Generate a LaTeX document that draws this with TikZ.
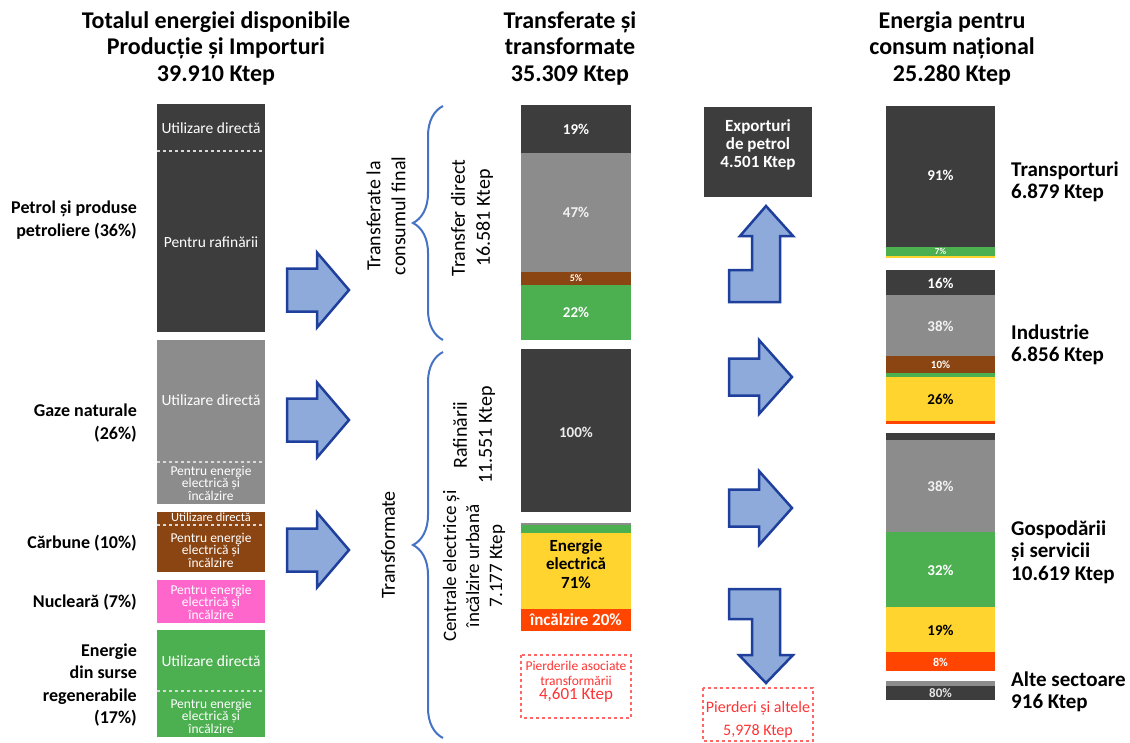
\documentclass[tikz,border=0pt]{standalone}
\usepackage{fontspec}
\setmainfont{Carlito}
\usetikzlibrary{decorations.pathreplacing}

\definecolor{oil}{HTML}{3D3D3D}
\definecolor{gas}{HTML}{8C8C8C}
\definecolor{coal}{HTML}{8B4513}
\definecolor{nuke}{HTML}{FF66CC}
\definecolor{renew}{HTML}{4CAF50}
\definecolor{elec}{HTML}{FFD42E}
\definecolor{heat}{HTML}{FF4500}
\definecolor{arrowfill}{HTML}{8EAADB}
\definecolor{arrowline}{HTML}{1F3F9C}
\definecolor{bracecol}{HTML}{4472C4}
\definecolor{loss}{HTML}{FF3333}

\newcommand{\fs}[2]{\fontsize{#1}{#2}\selectfont}

\tikzset{
  heading/.style={align=center, inner sep=0, font=\bfseries\fs{24}{26.5}},
  srclabel/.style={align=right, anchor=east, inner sep=0, font=\bfseries\fs{18}{22.5}},
  uselabel/.style={align=left, anchor=west, inner sep=0, font=\bfseries\fs{21}{22.5}},
  inbar/.style={text=white, align=center, inner sep=0, font=\fs{15.5}{16}},
  inbarsmall/.style={text=white, align=center, inner sep=0, font=\fs{13.5}{12.5}},
  pct/.style={text=white, inner sep=0, font=\bfseries\fs{15}{16}},
  sideways/.style={rotate=90, align=center, inner sep=0, font=\fs{20}{25}},
  split/.style={white!85!black, dash pattern=on 3pt off 3pt, line width=1.5pt},
  blockarrow/.style={fill=arrowfill, draw=arrowline, line width=2.5pt, line join=miter},
  curly/.style={draw=bracecol, line width=2pt, decorate, decoration={brace, amplitude=30pt}},
  lossbox/.style={draw=loss!75, dashed, line width=1.2pt},
  losstext/.style={text=loss, align=center, inner sep=0},
}

\begin{document}
\begin{tikzpicture}[x=1pt, y=-1pt]
  \useasboundingbox (0,0) rectangle (1130,742);

  % column headings
  \node[heading] (h1) at (216,48) {Totalul energiei disponibile\\Producție și Importuri\\39.910 Ktep};
  \node[heading] (h2) at (570,48) {Transferate și\\transformate\\35.309 Ktep};
  \node[heading] (h3) at (952,48) {Energia pentru\\consum național\\25.280 Ktep};

  % primary sources
  \fill[oil] (157,104) rectangle (265,332);
  \fill[gas] (157,340) rectangle (265,504);
  \fill[coal] (157,512) rectangle (265,572);
  \fill[nuke] (157,580) rectangle (265,623);
  \fill[renew] (157,630) rectangle (265,737);
  \draw[split] (157,151) -- (265,151);
  \draw[split] (157,462) -- (265,462);
  \draw[split] (157,525) -- (265,525);
  \draw[split] (157,691) -- (265,691);

  \node[inbar] (oildir) at (211,128) {Utilizare directă};
  \node[inbar] (oilref) at (211,242) {Pentru rafinării};
  \node[inbar] (gasdir) at (211,400) {Utilizare directă};
  \node[inbarsmall] (gasel) at (211,483) {Pentru energie\\electrică și\\încălzire};
  \node[inbarsmall, font=\fs{12.5}{12.5}] (coaldir) at (211,517.5) {Utilizare directă};
  \node[inbarsmall] (coalel) at (211,550) {Pentru energie\\electrică și\\încălzire};
  \node[inbarsmall] (nukeel) at (211,602) {Pentru energie\\electrică și\\încălzire};
  \node[inbar] (rendir) at (211,661) {Utilizare directă};
  \node[inbarsmall] (renel) at (211,716) {Pentru energie\\electrică și\\încălzire};

  \node[srclabel] (lboil) at (137,220) {Petrol și produse\\petroliere (36\%)};
  \node[srclabel] (lbgas) at (137,423) {Gaze naturale\\(26\%)};
  \node[srclabel] (lbcoal) at (137,543) {Cărbune (10\%)};
  \node[srclabel] (lbnuke) at (137,602) {Nucleară (7\%)};
  \node[srclabel] (lbren) at (137,685) {Energie\\din surse\\regenerabile\\(17\%)};

  % arrows into the middle column
  \foreach \y in {290,420,550}
    \draw[blockarrow, shift={(287,\y)}] (0,-21.5) -- (30,-21.5) -- (30,-37.5) -- (62,0)
      -- (30,37.5) -- (30,21.5) -- (0,21.5) -- cycle;

  % braces
  \draw[curly] (443,340) -- (443,106);
  \draw[curly] (443,738) -- (443,352);
  \node[sideways] (final) at (386,216) {Transferate la\\consumul final};
  \node[sideways] (transf) at (388,545) {Transformate};
  \node[sideways] (direct) at (472,218) {Transfer direct\\16.581 Ktep};
  \node[sideways] (rafin) at (474,435) {Rafinării\\11.551 Ktep};
  \node[sideways, font=\fs{19}{23}] (centr) at (474,566) {Centrale electrice și\\încălzire urbană\\7.177 Ktep};

  % direct transfer
  \fill[oil] (521,105) rectangle (631,153);
  \fill[gas] (521,153) rectangle (631,272);
  \fill[coal] (521,272) rectangle (631,285);
  \fill[renew] (521,285) rectangle (631,340);
  \node[pct] (d19) at (576,129) {19\%};
  \node[pct, text=white!90!gray] (d47) at (576,212) {47\%};
  \node[pct, font=\bfseries\fs{10}{10}] (d5) at (576,278.5) {5\%};
  \node[pct] (d22) at (576,312) {22\%};

  % refineries
  \fill[oil] (521,349) rectangle (631,512);
  \node[pct, text=white!85!gray] (r100) at (576,432) {100\%};

  % power and heat plants
  \fill[gas] (521,523) rectangle (631,525);
  \fill[renew] (521,525) rectangle (631,533);
  \fill[elec] (521,533) rectangle (631,609);
  \fill[heat] (521,609) rectangle (631,631);
  \node[align=center, inner sep=0, font=\bfseries\fs{17}{18.5}] (el71) at (576,564) {Energie\\electrică\\71\%};
  \node[pct, font=\bfseries\fs{17}{18}] (ht20) at (576,620) {încălzire 20\%};

  \draw[lossbox] (521,655) rectangle (631,718);
  \node[losstext, font=\fs{13.5}{14.5}] (loss1) at (576,682) {Pierderile asociate\\transformării\\{\fs{17}{17}4,601 Ktep}};

  % exports
  \node[fill=oil, minimum width=108, minimum height=90, inner sep=0] (export) at (758,152) {};
  \node[text=white, align=center, inner sep=0, font=\bfseries\fs{17}{18}] (exptxt) at (758,145) {Exporturi\\de petrol\\4.501 Ktep};
  \draw[blockarrow] (729,270) -- (752,270) -- (752,236) -- (740,236) -- (766,206) -- (793,236)
    -- (780,236) -- (780,302) -- (729,302) -- cycle;

  % arrows into final use
  \foreach \y in {377,508}
    \draw[blockarrow, shift={(729,\y)}] (0,-18.5) -- (30,-18.5) -- (30,-37) -- (63,0)
      -- (30,37) -- (30,18.5) -- (0,18.5) -- cycle;
  \draw[blockarrow] (729,589) -- (780,589) -- (780,655) -- (793,655) -- (766,683) -- (739,655)
    -- (752,655) -- (752,619) -- (729,619) -- cycle;

  \draw[lossbox] (703,688) rectangle (813,741);
  \node[losstext, font=\fs{16}{23}] (loss2) at (758,720) {Pierderi și altele\\5,978 Ktep};

  % final consumption
  \fill[oil] (886,106) rectangle (995,247);
  \fill[renew] (886,247) rectangle (995,256);
  \fill[elec] (886,256) rectangle (995,258);
  \node[pct] (t91) at (940.5,175) {91\%};
  \node[pct, font=\bfseries\fs{9}{9}] (t7) at (940.5,251.5) {7\%};

  \fill[oil] (886,270) rectangle (995,295);
  \fill[gas] (886,295) rectangle (995,356);
  \fill[coal] (886,356) rectangle (995,373);
  \fill[renew] (886,373) rectangle (995,377);
  \fill[elec] (886,377) rectangle (995,421);
  \fill[heat] (886,421) rectangle (995,424);
  \node[pct] (i16) at (940.5,283) {16\%};
  \node[pct, text=white!90!gray] (i38) at (940.5,326) {38\%};
  \node[pct, font=\bfseries\fs{11}{11}] (i10) at (940.5,365) {10\%};
  \node[pct, text=black] (i26) at (940.5,399) {26\%};

  \fill[oil] (886,433) rectangle (995,440);
  \fill[gas] (886,440) rectangle (995,532);
  \fill[renew] (886,532) rectangle (995,607);
  \fill[elec] (886,607) rectangle (995,652);
  \fill[heat] (886,652) rectangle (995,671);
  \node[pct, text=white!90!gray] (g38) at (940.5,486) {38\%};
  \node[pct] (g32) at (940.5,570) {32\%};
  \node[pct, text=black] (g19) at (940.5,630) {19\%};
  \node[pct, font=\bfseries\fs{12}{12}] (g8) at (940.5,662) {8\%};

  \fill[gas] (886,681) rectangle (995,686);
  \fill[oil] (886,686) rectangle (995,700);
  \node[pct, text=white!80!gray, font=\bfseries\fs{13}{13}] (a80) at (940.5,693) {80\%};

  \node[uselabel] (trans) at (1011,182) {Transporturi\\6.879 Ktep};
  \node[uselabel] (ind) at (1011,345) {Industrie\\6.856 Ktep};
  \node[uselabel] (gosp) at (1011,552) {Gospodării\\și servicii\\10.619 Ktep};
  \node[uselabel] (alte) at (1011,692) {Alte sectoare\\916 Ktep};
\end{tikzpicture}
\end{document}
